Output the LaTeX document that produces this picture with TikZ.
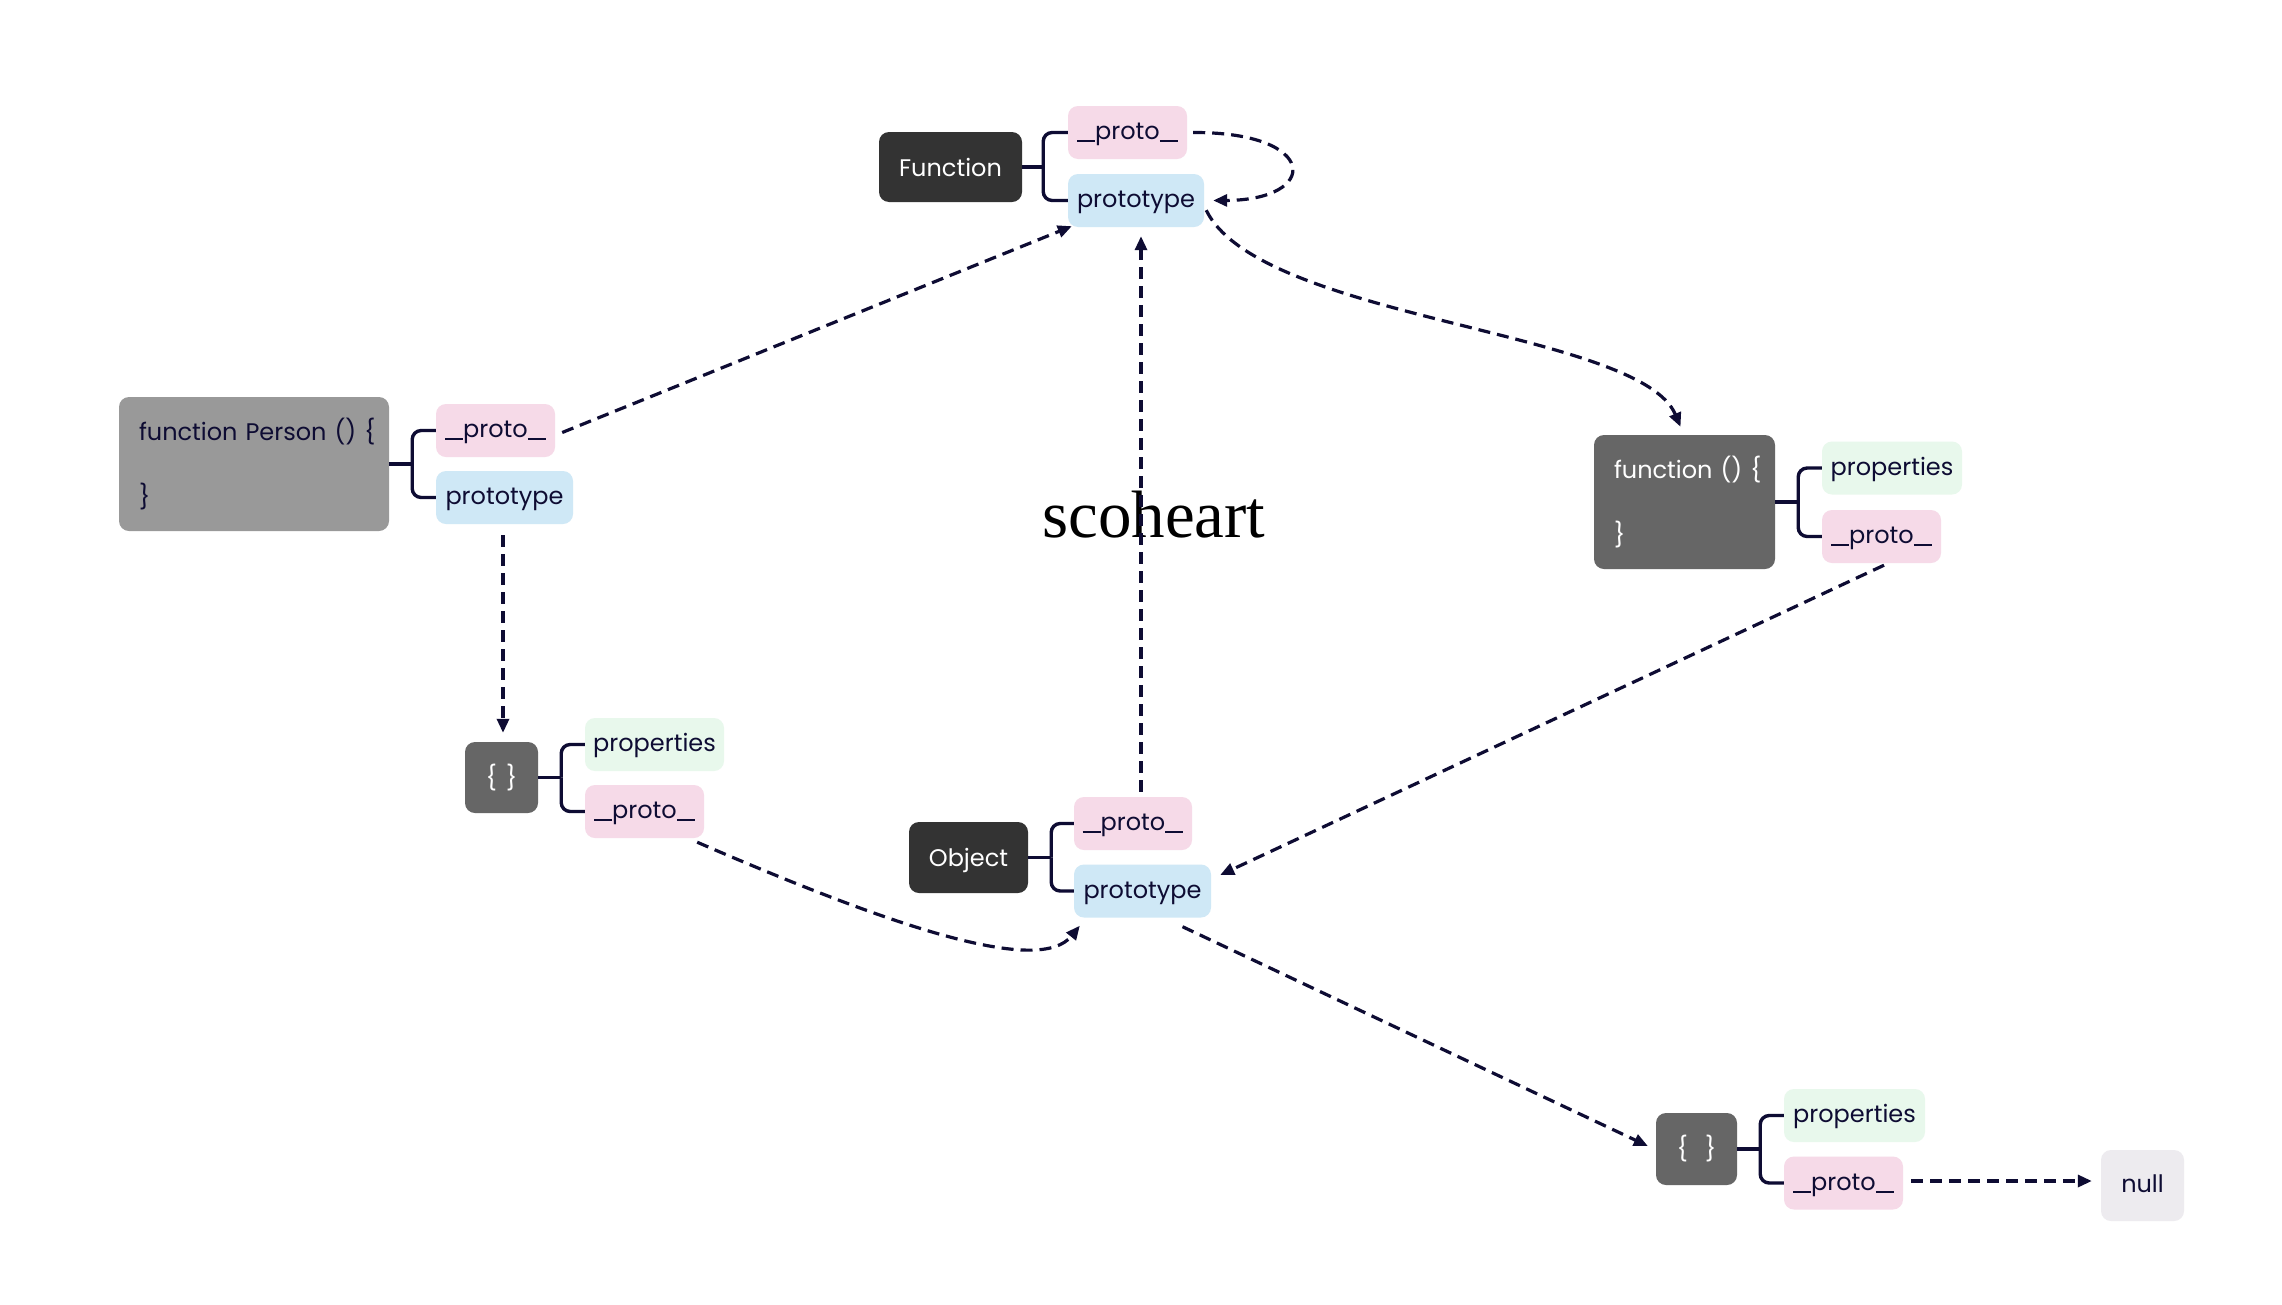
\documentclass[tikz,border=0pt]{standalone}
\usepackage{fontspec}
\usetikzlibrary{arrows.meta,calc}
\newfontfamily\popfont{Poppins}
\newfontfamily\wmfont{Liberation Serif}
\definecolor{navy}{HTML}{0E0C33}
\definecolor{cdark}{HTML}{333333}
\definecolor{cmid}{HTML}{666666}
\definecolor{cgray}{HTML}{999999}
\definecolor{cpink}{HTML}{F6DAE8}
\definecolor{cblue}{HTML}{CFE8F6}
\definecolor{cgreen}{HTML}{E8F8EC}
\definecolor{cnull}{HTML}{EDEBEF}
\newcommand\myus{\rule[-2.5pt]{18pt}{2pt}}
\newcommand\myproto{\myus proto\myus}
\tikzset{
  box/.style={rounded corners=10pt, inner sep=0pt, text=navy, font=\popfont\fontsize{24}{65}\selectfont},
  lowtext/.style={text height=18pt, text depth=4pt},
  captext/.style={text height=20pt, text depth=2pt},
  darkbox/.style={box, captext, fill=cdark, text=white},
  midbox/.style={box, fill=cmid, text=white},
  graybox/.style={box, fill=cgray},
  pinkbox/.style={box, lowtext, fill=cpink, minimum width=119pt, minimum height=53pt},
  bluebox/.style={box, lowtext, fill=cblue, minimum width=137pt, minimum height=53pt},
  greenbox/.style={box, lowtext, fill=cgreen, minimum width=140pt, minimum height=53pt},
  nullbox/.style={box, lowtext, fill=cnull},
  br/.style={draw=navy, line width=3.4pt, rounded corners=9pt},
  arr/.style={draw=navy, line width=3.2pt, dash pattern=on 12pt off 7pt, -{Triangle[length=14pt,width=12pt]}},
}
\begin{document}
\begin{tikzpicture}[x=1pt,y=-1pt]
\useasboundingbox (0,0) rectangle (2282,1304);
\fill[white] (0,0) rectangle (2282,1304);

% Function group
\node[darkbox, minimum width=143pt, minimum height=70pt] (F) at (950.5,167) {Function};
\node[pinkbox] (Fp) at (1127.5,132.5) {\myproto};
\node[bluebox, minimum width=136pt] (Fpt) at (1136,200.5) {prototype};
\draw[br] (F.east) -- ++(21,0) coordinate (Fj);
\draw[br] (Fp.west) -| (Fj);
\draw[br] (Fpt.west) -| (Fj);

% Person group
\node[graybox, minimum width=270pt, minimum height=134pt, text width=230pt, align=left, inner xsep=20pt] (P) at (254,464) {\mbox{function Person () \{}\\\}};
\node[pinkbox] (Pp) at (495.5,430.5) {\myproto};
\node[bluebox] (Ppt) at (504.5,497.5) {prototype};
\draw[br] (P.east) -- ++(23,0) coordinate (Pj);
\draw[br] (Pp.west) -| (Pj);
\draw[br] (Ppt.west) -| (Pj);

% function () group
\node[midbox, minimum width=181pt, minimum height=134pt, text width=141pt, align=left, inner xsep=20pt] (FN) at (1684.5,502) {\mbox{function () \{}\\\}};
\node[greenbox] (FNpr) at (1892,468) {properties};
\node[pinkbox] (FNp) at (1881.5,536.5) {\myproto};
\draw[br] (FN.east) -- ++(23,0) coordinate (FNj);
\draw[br] (FNpr.west) -| (FNj);
\draw[br] (FNp.west) -| (FNj);

% {} left group
\node[midbox, minimum width=73pt, minimum height=71pt] (O1) at (501.5,777.5) {\{\hspace{9pt}\}};
\node[greenbox, minimum width=139pt] (O1pr) at (654.5,744.5) {properties};
\node[pinkbox] (O1p) at (644.5,811.5) {\myproto};
\draw[br] (O1.east) -- ++(23,0) coordinate (O1j);
\draw[br] (O1pr.west) -| (O1j);
\draw[br] (O1p.west) -| (O1j);

% Object group
\node[darkbox, minimum width=119pt, minimum height=71pt] (Ob) at (968.5,857.5) {Object};
\node[pinkbox, minimum width=118pt] (Obp) at (1133,823.5) {\myproto};
\node[bluebox] (Obpt) at (1142.5,891) {prototype};
\draw[br] (Ob.east) -- ++(23,0) coordinate (Obj);
\draw[br] (Obp.west) -| (Obj);
\draw[br] (Obpt.west) -| (Obj);

% {} right group
\node[midbox, minimum width=81pt, minimum height=72pt] (O2) at (1696.5,1149) {\{\hspace{17pt}\}};
\node[greenbox, minimum width=141pt] (O2pr) at (1854.5,1115.5) {properties};
\node[pinkbox] (O2p) at (1843.5,1183) {\myproto};
\draw[br] (O2.east) -- ++(23,0) coordinate (O2j);
\draw[br] (O2pr.west) -| (O2j);
\draw[br] (O2p.west) -| (O2j);

\node[nullbox, minimum width=83pt, minimum height=71pt] (null) at (2142.5,1185.5) {null};

% watermark
\node[anchor=base west, inner sep=0pt, font=\wmfont\fontsize{67}{70}\selectfont] (wm) at (1042,537) {scoheart};

% arrows
\draw[arr] ($(Pp.east)+(7,2)$) -- ($(Fpt.south west)+(4,-1)$);
\draw[arr] ($(Obp.north)+(8,-5)$) -- ($(Fpt.south)+(5,9)$);
\draw[arr] ($(Fpt.south east)+(2,-17)$) .. controls (1260,320) and (1640,330) .. ($(FN.north)+(-4,-8)$);
\draw[arr] ($(Ppt.south)+(-1.5,11)$) -- ($(O1.north)+(1.5,-9)$);
\draw[arr] ($(FNp.south)+(2.5,2)$) -- ($(Obpt.east)+(9,-16)$);
\draw[arr] ($(Obpt.south)+(40,9)$) -- ($(O2.west)+(-8,-3)$);
\draw[arr] ($(O2p.east)+(8,-2)$) -- ($(null.west)+(-9,-4.5)$);
\draw[arr] ($(Fp.east)+(6,0)$) .. controls (1320,132) and (1320,200) .. ($(Fpt.east)+(9,0)$);
\draw[arr] ($(O1p.south east)+(-7,4)$) .. controls (900,930) and (1040,975) .. ($(Obpt.south west)+(6,8)$);
\end{tikzpicture}
\end{document}
